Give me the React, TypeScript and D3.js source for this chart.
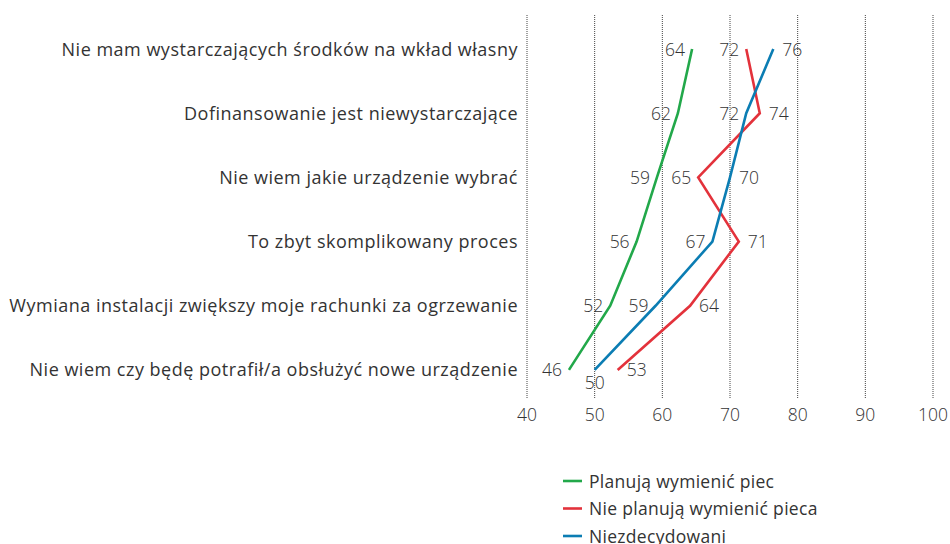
import * as d3 from "d3";

const kategorie = [
  "Nie mam wystarczających środków na wkład własny",
  "Dofinansowanie jest niewystarczające",
  "Nie wiem jakie urządzenie wybrać",
  "To zbyt skomplikowany proces",
  "Wymiana instalacji zwiększy moje rachunki za ogrzewanie",
  "Nie wiem czy będę potrafił/a obsłużyć nowe urządzenie",
];

const planuja = [64.4, 62.3, 59.2, 56.2, 52.3, 46.2];
const niePlanuja = [72.4, 74.4, 65.3, 71.3, 64.1, 53.4];
const niezdecydowani = [76.4, 72.4, 70.0, 67.4, 59.0, 50.0];

const ticksX = [40, 50, 60, 70, 80, 90, 100];

type Strona = "left" | "right" | "below";

const serie = [
  { nazwa: "Planują wymienić piec", wartosci: planuja, kolor: "#22a84a", etykiety: ["left", "left", "left", "left", "left", "left"] as Strona[] },
  { nazwa: "Nie planują wymienić pieca", wartosci: niePlanuja, kolor: "#e3323b", etykiety: ["left", "right", "left", "right", "right", "right"] as Strona[] },
  { nazwa: "Niezdecydowani", wartosci: niezdecydowani, kolor: "#0b7db3", etykiety: ["right", "left", "right", "left", "left", "below"] as Strona[] },
];

const FONT = "'Open Sans', sans-serif";
const TEKST = "#333";

export default function App() {
  const W = 950;
  const H = 544;

  const x = d3.scaleLinear().domain([40, 100]).range([527, 933]);
  const y = d3.scalePoint<string>().domain(kategorie).range([17, 402]).padding(0.5);

  const linia = d3
    .line<number>()
    .x((d) => x(d))
    .y((_, i) => y(kategorie[i]) || 0);

  return (
    <svg width={W} height={H} style={{ position: "absolute", left: 0, top: 0 }} fontFamily={FONT}>
      {/* siatka */}
      {ticksX.map((t) => (
        <g key={t}>
          <line x1={x(t)} x2={x(t)} y1={15} y2={398} stroke="#444" strokeWidth={1} strokeDasharray="1,1" />
          <text x={x(t)} y={421} textAnchor="middle" fontSize={17.5} fill={TEKST} fontWeight={300}>
            {t}
          </text>
        </g>
      ))}

      {kategorie.map((k) => (
        <text key={k} x={518} y={(y(k) || 0) + 6.5} textAnchor="end" fontSize={18} letterSpacing={0.5} fill={TEKST}>
          {k}
        </text>
      ))}

      {serie.map((s) => (
        <g key={s.nazwa}>
          <path d={linia(s.wartosci) || ""} fill="none" stroke={s.kolor} strokeWidth={2.6} />
          {s.wartosci.map((v, i) => {
            const px = x(v);
            const py = y(kategorie[i]) || 0;
            const strona = s.etykiety[i];
            const lx = strona === "left" ? px - 7 : strona === "right" ? px + 9 : px;
            const ly = strona === "below" ? py + 19 : py + 6.5;
            const anchor = strona === "left" ? "end" : strona === "right" ? "start" : "middle";
            return (
              <text key={i} x={lx} y={ly} textAnchor={anchor} fontSize={17.5} fill={TEKST} fontWeight={300}>
                {Math.round(v)}
              </text>
            );
          })}
        </g>
      ))}

      {/* legenda */}
      {serie.map((s, i) => (
        <g key={s.nazwa} transform={`translate(563,${481 + i * 27.5})`}>
          <line x1={0} x2={19} y1={0} y2={0} stroke={s.kolor} strokeWidth={2.6} />
          <text x={26} y={6.5} fontSize={17.5} letterSpacing={0.3} fill={TEKST}>
            {s.nazwa}
          </text>
        </g>
      ))}
    </svg>
  );
}
